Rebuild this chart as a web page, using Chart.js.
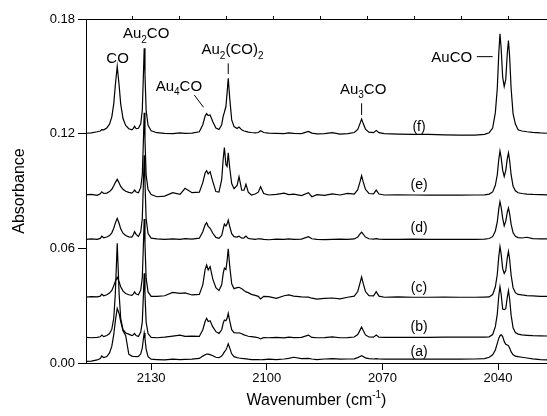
<!DOCTYPE html>
<html>
<head>
<meta charset="utf-8">
<script src="https://cdn.jsdelivr.net/npm/chart.js@4/dist/chart.umd.min.js"></script>
<style>
  body { margin: 0; background: #fff; }
  canvas { display: block; }
</style>
</head>
<body>
<canvas id="spectra" width="547" height="416"></canvas>
<script>
// wavenumber grid (cm-1), shared by all six spectra
const wavenumber = [
  2147, 2145.5, 2144, 2143.2, 2142.8, 2142.3, 2141.5, 2140.8, 2140.2, 2139.7,
  2139.3, 2138.8, 2138.3, 2137.9, 2137.3, 2136.6, 2135.8, 2135, 2134.6, 2134.3,
  2133.9, 2133.3, 2132.7, 2132.3, 2132.0, 2131.8, 2131.6, 2131.3, 2130.8, 2130.0,
  2128.5, 2126.5, 2124.4, 2122.5, 2121.2, 2119.4, 2117.5, 2116.6, 2116.0, 2115.6,
  2115.2, 2114.7, 2114.0, 2113.2, 2112.4, 2111.7, 2111.3, 2111.0, 2110.6, 2110.3,
  2110.0, 2109.6, 2109.1, 2108.5, 2107.7, 2107.2, 2106.5, 2105.9, 2105.4, 2104.8,
  2104.0, 2103.0, 2102.2, 2101.6, 2100.8, 2099.5, 2097.5, 2095.5, 2094.3, 2093,
  2091, 2089.2, 2088.3, 2087, 2085, 2083, 2081, 2079, 2077.3, 2076.4,
  2075.8, 2075.4, 2075.0, 2074.4, 2073.5, 2072.3, 2071.6, 2070.9, 2069.5, 2066,
  2062, 2058, 2054, 2050, 2046, 2043.5, 2042.3, 2041.4, 2040.7, 2040.2,
  2039.8, 2039.5, 2039.2, 2038.8, 2038.4, 2038.0, 2037.6, 2037.3, 2037.0, 2036.6,
  2036.1, 2035.5, 2034.8, 2033.8, 2032.5, 2031, 2029, 2027
];

// absorbance above each trace's own baseline, in units of 0.001
const specA = [
  0.0, 0.2, 0.8, 1.5, 2.9, 2.0, 2.6, 4.5, 8.0, 14,
  21, 27.8, 25, 21, 16, 13.5, 3.8, 2.8, 2.6, 2.6,
  2.5, 2.6, 4.0, 7.0, 12.0, 14.9, 12.0, 6.5, 2.5, 1.2,
  1.0, 0.8, 1.2, 1.0, 1.1, 1.2, 1.6, 2.8, 3.5, 3.8,
  3.8, 3.6, 3.0, 2.2, 2.0, 2.8, 4.0, 5.0, 6.0, 7.5,
  9.2, 7.0, 4.0, 2.5, 2.0, 1.8, 1.6, 1.5, 1.4, 1.2,
  1.0, 1.0, 1.0, 0.9, 1.0, 1.2, 1.0, 1.3, 1.6, 2.2,
  1.5, 1.6, 1.3, 1.0, 1.3, 1.5, 1.2, 1.3, 1.4, 2.0,
  2.6, 3.0, 2.6, 1.9, 1.5, 1.3, 1.5, 1.3, 1.2, 1.2,
  1.3, 1.2, 1.2, 1.2, 1.3, 1.5, 2.2, 3.5, 6.0, 9.5,
  12.2, 13.5, 13.9, 13.0, 10.5, 9.0, 8.6, 8.3, 7.0, 5.0,
  3.5, 2.8, 2.5, 2.2, 1.8, 1.4, 1.0, 0.8
];
const specB = [
  0.5, 0.3, 0.5, 0.8, 1.7, 0.9, 1.5, 2.5, 4.8, 10.5,
  23, 49.7, 23, 10.5, 4.5, 2.8, 2.2, 1.5, 1.9, 2.6,
  1.5, 1.0, 3.3, 8.5, 23, 34, 23, 8.5, 2.5, 0.5,
  0.3, 0.6, 1.2, 1.7, 1.0, 1.2, 1.0, 4.5, 8.8, 10.5,
  8.8, 9.2, 6.0, 3.5, 2.6, 4.5, 8.0, 9.6, 9.2, 10.5,
  13.1, 9.0, 4.5, 3.0, 2.8, 2.9, 2.4, 1.8, 1.5, 1.1,
  0.9, 0.6, 0.3, -0.3, 0.4, 0.3, 0.5, 0.2, 0.6, 0.4,
  0.5, 1.7, 0.5, 0.3, 0.4, 0.8, 0.3, 0.4, 0.7, 2.0,
  4.3, 5.9, 4.2, 1.8, 0.7, 0.6, 1.7, 0.6, 0.5, 0.5,
  0.5, 0.5, 0.6, 0.6, 0.6, 0.6, 0.8, 2.0, 6.1, 12.7,
  22.4, 27, 23.2, 15.3, 15.0, 15.5, 21.6, 25, 20.7, 12.0,
  5.5, 3.0, 2.2, 1.8, 1.6, 1.4, 1.3, 1.2
];
const specC = [
  0.0, 0.3, 0.2, 0.6, 1.6, 0.8, 1.3, 2.2, 3.6, 6.0,
  8.3, 10.5, 8.0, 5.5, 3.2, 2.0, 1.3, 1.0, 1.8, 2.8,
  1.7, 1.3, 3.8, 10, 28, 41, 28, 10, 2.8, 0.5,
  0.5, 0.8, 2.5, 2.0, 2.3, 1.2, 1.5, 6.5, 14.5, 16.9,
  14.3, 16.0, 9.5, 5.0, 3.5, 6.5, 12.5, 15.2, 14.5, 19,
  25.3, 16, 7, 4.5, 5.0, 5.2, 4.5, 3.5, 2.8, 2.4,
  1.5, 1.0, 0.5, -0.9, 0.5, 0.3, -0.6, 0.8, 1.2, 0.6,
  0.2, 0.1, -0.5, -1.0, -0.6, -0.4, -0.8, 0.0, 0.6, 3.0,
  7.5, 10.6, 7.4, 3.0, 0.8, 0.7, 2.9, 0.6, 0.0, 0.2,
  0.0, 0.0, 0.1, 0.0, 0.0, 0.1, 0.15, 1.4, 5.5, 11.9,
  21.5, 26.5, 22.7, 15.0, 12.5, 14.0, 20.7, 24, 19.9, 11.5,
  5.0, 2.4, 1.5, 1.2, 0.9, 0.7, 0.5, 0.4
];
const specD = [
  0.0, 0.2, 0.0, 0.5, 1.7, 0.8, 1.2, 2.0, 3.4, 5.8,
  8.5, 11.0, 8.3, 5.5, 3.2, 2.0, 1.3, 1.2, 2.5, 4.0,
  2.6, 1.5, 4.0, 10.8, 30, 44, 30, 10.8, 3.0, 0.6,
  0.2, 0.0, 0.3, 0.0, 0.4, 0.1, 0.6, 4.0, 7.6, 8.7,
  6.8, 5.8, 3.2, 1.0, 0.5, 2.0, 5.5, 8.0, 7.0, 8.0,
  10.1, 6.6, 3.0, 1.4, 1.2, 1.7, 0.6, 0.8, 1.7, 0.5,
  0.2, 0.0, 0.3, 0.2, 0.0, -0.2, 0.1, 0.0, 0.2, 0.0,
  0.1, 1.4, 0.3, 0.0, -0.1, 0.0, 0.1, 0.0, 0.2, 1.2,
  2.9, 3.8, 2.8, 1.2, 0.3, 0.1, 0.4, 0.1, 0.0, 0.0,
  0.1, 0.0, 0.0, 0.0, 0.0, 0.1, 0.45, 1.4, 4.4, 9.1,
  16.1, 19.7, 16.9, 11.1, 7.0, 9.5, 14.2, 16.4, 13.5, 7.8,
  3.4, 1.6, 0.9, 0.7, 1.1, 0.4, 0.3, 0.2
];
const specE = [
  0.0, 0.3, -0.2, 0.6, 1.7, 0.8, 1.0, 1.8, 3.0, 4.8,
  6.5, 8.2, 6.3, 4.5, 3.0, 2.0, 1.4, 1.0, 1.8, 2.6,
  1.6, 1.2, 4.0, 10.5, 29, 43, 29, 10.5, 2.8, 0.2,
  -0.9, -0.6, 1.2, 0.3, 3.5, 1.2, 1.5, 6.5, 11.5, 12.7,
  11.0, 12.2, 7.0, 1.8, 1.5, 8.0, 19, 24.8, 16, 15,
  22.1, 14, 6, 3.3, 5.0, 9.6, 2.5, 2.5, 5.6, 1.5,
  0.0, 0.5, 1.5, 4.3, 0.8, 0.0, 0.3, 1.0, 0.2, 0.5,
  -0.3, 1.2, -0.9, 0.2, -0.2, 0.6, 0.0, 0.9, 0.5, 2.8,
  7.0, 10.1, 7.0, 3.0, 0.8, 0.6, 2.6, 0.5, 0.0, 0.1,
  0.0, -0.1, 0.0, -0.1, 0.0, 0.1, 0.5, 1.6, 5.1, 10.6,
  18.8, 23, 19.7, 13.0, 9.7, 12.8, 19.0, 22, 18.2, 10.5,
  4.6, 2.2, 1.2, 0.8, 0.5, 0.3, 0.2, 0.1
];
const specF = [
  0.0, 0.2, 0.8, 1.2, 1.9, 1.8, 2.8, 4.8, 8.6, 15.4,
  25, 35, 25, 15.4, 7.7, 4.1, 2.4, 1.8, 2.6, 3.7,
  2.4, 2.6, 5.0, 12, 31, 44.5, 31, 12, 4.2, 1.3,
  0.3, 0.0, -0.2, 0.2, 0.0, 0.1, 0.8, 4.5, 9.0, 10.3,
  9.3, 9.6, 6.0, 2.8, 2.0, 4.5, 9.0, 11.0, 14, 21,
  28.8, 18, 7, 3.5, 2.5, 3.3, 1.8, 1.2, 1.0, 0.6,
  0.4, 0.2, 0.4, 1.3, 0.4, 0.1, 0.0, -0.2, 0.2, 0.0,
  -0.2, 1.0, 0.1, -0.3, -0.2, 0.3, -0.4, -0.2, 0.4, 2.0,
  5.2, 7.5, 5.2, 2.2, 0.6, 0.3, 1.5, 0.3, -0.2, -0.4,
  -0.6, -0.6, -0.8, -1.0, -1.0, -0.6, 0.3, 2.7, 10.8, 23.4,
  42.2, 52, 44.6, 29.4, 24.5, 28.2, 41.9, 48.5, 40.2, 23.2,
  10.2, 4.8, 1.8, 1.2, 0.8, 0.5, 0.2, 0.0
];

// vertical offset of each trace (units of 0.001), bottom to top
const traceLabels = ['(a)', '(b)', '(c)', '(d)', '(e)', '(f)'];
const traceOffsets = [0.8, 12.9, 34.4, 64.7, 87.9, 120.2];
const traceSpectra = [specA, specB, specC, specD, specE, specF];

const xTicks = [2130, 2100, 2070, 2040];
const yTicks = [0, 0.06, 0.12, 0.18];

traceSpectra.forEach((s, i) => {
  if (s.length !== wavenumber.length) throw new Error('length mismatch ' + traceLabels[i] + ' ' + s.length);
});

const FONT = "Arial, 'Liberation Sans', sans-serif";

// label positions in data coordinates
const traceLabelPos = [
  [2060.5, 0.0059], [2060.5, 0.0190], [2060.5, 0.0391],
  [2060.5, 0.0706], [2060.5, 0.0931], [2060.5, 0.1235]
];
const bandLabels = [
  { parts: [['CO', 0]], x: 2138.7, y: 0.157 },
  { parts: [['Au', 0], ['2', 1], ['CO', 0]], x: 2131.3, y: 0.1699 },
  { parts: [['Au', 0], ['4', 1], ['CO', 0]], x: 2122.8, y: 0.1425 },
  { parts: [['Au', 0], ['2', 1], ['(CO)', 0], ['2', 1]], x: 2108.9, y: 0.1615 },
  { parts: [['Au', 0], ['3', 1], ['CO', 0]], x: 2075.0, y: 0.1406 },
  { parts: [['AuCO', 0]], x: 2052.0, y: 0.1573 }
];
const leaders = [
  [2118.8, 0.1402, 2116.4, 0.1338],
  [2110.0, 0.1568, 2110.0, 0.1512],
  [2075.4, 0.1359, 2075.4, 0.1298],
  [2045.5, 0.1603, 2041.4, 0.1603]
];

function drawRich(ctx, parts, cx, by, size) {
  let total = 0;
  const widths = parts.map(([t, sub]) => {
    ctx.font = (sub ? Math.round(size * 0.68) : size) + 'px ' + FONT;
    const w = ctx.measureText(t).width;
    total += w;
    return w;
  });
  let x = cx - total / 2;
  parts.forEach(([t, sub], i) => {
    ctx.font = (sub ? Math.round(size * 0.68) : size) + 'px ' + FONT;
    ctx.fillText(t, x, by + (sub ? size * 0.28 : 0));
    x += widths[i];
  });
}

const annotate = {
  id: 'annotate',
  afterDraw(chart) {
    const ctx = chart.ctx;
    const xs = chart.scales.x, ys = chart.scales.y;
    ctx.save();
    ctx.fillStyle = '#000';
    ctx.strokeStyle = '#000';
    ctx.lineWidth = 1;
    ctx.textBaseline = 'alphabetic';
    ctx.textAlign = 'left';

    bandLabels.forEach(l => {
      drawRich(ctx, l.parts, xs.getPixelForValue(l.x), ys.getPixelForValue(l.y), 15);
    });
    leaders.forEach(([x1, y1, x2, y2]) => {
      ctx.beginPath();
      ctx.moveTo(xs.getPixelForValue(x1), ys.getPixelForValue(y1));
      ctx.lineTo(xs.getPixelForValue(x2), ys.getPixelForValue(y2));
      ctx.stroke();
    });

    ctx.font = '14px ' + FONT;
    ctx.textAlign = 'center';
    ctx.textBaseline = 'middle';
    traceLabelPos.forEach(([x, y], i) => {
      ctx.fillText(traceLabels[i], xs.getPixelForValue(x), ys.getPixelForValue(y));
    });

    // axis titles
    const area = chart.chartArea;
    ctx.save();
    ctx.translate(20, (area.top + area.bottom) / 2);
    ctx.rotate(-Math.PI / 2);
    ctx.font = '16px ' + FONT;
    ctx.fillText('Absorbance', 0, 0);
    ctx.restore();

    ctx.textAlign = 'left';
    ctx.textBaseline = 'alphabetic';
    const parts = [['Wavenumber (cm', 16], ['-1', 10], [')', 16]];
    let total = 0;
    parts.forEach(([t, s]) => { ctx.font = s + 'px ' + FONT; total += ctx.measureText(t).width; });
    let x = (area.left + area.right) / 2 - total / 2;
    parts.forEach(([t, s]) => {
      ctx.font = s + 'px ' + FONT;
      ctx.fillText(t, x, s === 10 ? 398 : 405);
      x += ctx.measureText(t).width;
    });
    ctx.restore();
  }
};

const datasets = traceSpectra.map((spec, i) => ({
  label: traceLabels[i],
  data: wavenumber.map((w, j) => ({ x: w, y: (traceOffsets[i] + spec[j]) / 1000 })),
  borderColor: '#000',
  borderWidth: 1.2,
  pointRadius: 0,
  tension: 0,
  fill: false
}));

const tickFont = { family: FONT, size: 13 };

new Chart(document.getElementById('spectra').getContext('2d'), {
  type: 'line',
  data: { datasets },
  options: {
    responsive: false,
    animation: false,
    layout: { padding: { top: 19, left: 0, right: 0, bottom: 0 } },
    plugins: { legend: { display: false }, tooltip: { enabled: false } },
    scales: {
      x: {
        type: 'linear',
        position: 'bottom',
        reverse: true,
        min: 2027.3,
        max: 2146.9,
        afterBuildTicks: s => { s.ticks = xTicks.map(v => ({ value: v })); },
        afterFit: s => { s.height = 53; },
        ticks: { font: tickFont, color: '#000', padding: 1, maxRotation: 0, callback: v => String(v) },
        grid: { drawOnChartArea: false, drawTicks: true, tickLength: 7, color: '#000' },
        border: { color: '#000', width: 1 }
      },
      x2: {
        type: 'linear',
        position: 'top',
        min: 0,
        max: 9.81,
        afterBuildTicks: s => { s.ticks = [1, 2, 3, 4, 5, 6, 7, 8, 9].map(v => ({ value: v })); },
        afterFit: s => { s.height = 0; },
        ticks: { display: false },
        grid: { drawOnChartArea: false, drawTicks: true, tickLength: 3, color: '#000' },
        border: { color: '#000', width: 1 }
      },
      y: {
        min: 0,
        max: 0.18,
        afterBuildTicks: s => { s.ticks = yTicks.map(v => ({ value: v })); },
        afterFit: s => { s.width = 86; },
        ticks: { font: tickFont, color: '#000', padding: 3, callback: v => v.toFixed(2) },
        grid: { drawOnChartArea: false, drawTicks: true, tickLength: 8, color: '#000' },
        border: { color: '#000', width: 1 }
      }
    }
  },
  plugins: [annotate]
});
</script>
</body>
</html>
